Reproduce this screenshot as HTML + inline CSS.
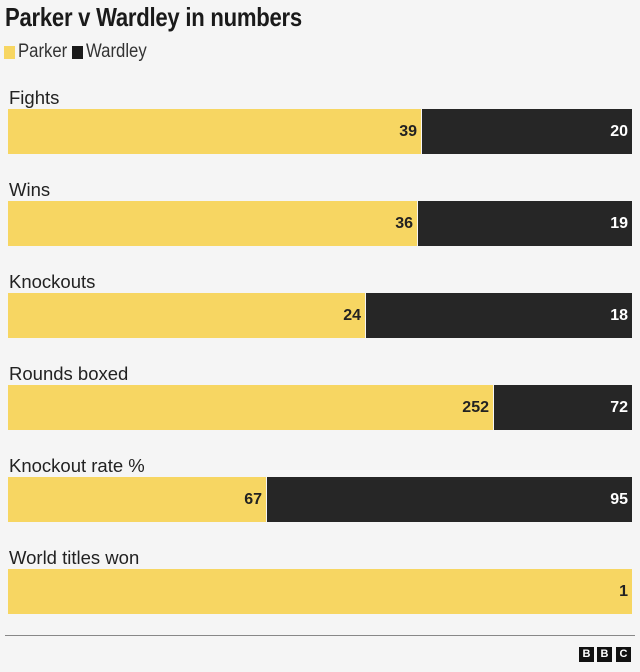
<!DOCTYPE html>
<html><head><meta charset="utf-8"><style>
body{margin:0;width:640px;height:672px;background:#f5f5f5;font-family:"Liberation Sans",sans-serif;position:relative;overflow:hidden;color:#222}
.a{position:absolute}
h1{position:absolute;left:5px;top:2px;margin:0;font-size:26px;font-weight:bold;letter-spacing:-0.3px;color:#1a1a1a;transform:scaleX(0.85);transform-origin:left top;white-space:nowrap}
.lab{position:absolute;left:9px;font-size:18.5px;color:#222;white-space:nowrap}
.lg{position:absolute;top:41px;font-size:19px;color:#333;transform:scaleX(0.88);transform-origin:left top;white-space:nowrap}
.y{position:absolute;background:#f7d662;height:45px}
.k{position:absolute;background:#262626;height:45px}
.v{position:absolute;font-weight:bold;font-size:16px;line-height:45px;text-align:right}
.bb{position:absolute;top:647px;width:15px;height:15px;background:#111;color:#fff;font-size:11px;font-weight:bold;text-align:center;line-height:15px}
</style></head><body>
<h1>Parker v Wardley in numbers</h1>
<div class="a" style="left:4px;top:46px;width:11px;height:13px;background:#f7d662"></div>
<div class="lg" style="left:18px">Parker</div>
<div class="a" style="left:72px;top:46px;width:11px;height:13px;background:#1a1a1a"></div>
<div class="lg" style="left:86px">Wardley</div>

<div class="lab" style="top:87px">Fights</div>
<div class="y" style="top:109px;left:8px;width:413px"></div><div class="k" style="top:109px;left:422px;width:210px"></div>
<div class="v" style="top:109px;left:8px;width:409px">39</div><div class="v" style="top:109px;left:422px;width:206px;color:#fff">20</div>

<div class="lab" style="top:179px">Wins</div>
<div class="y" style="top:201px;left:8px;width:409px"></div><div class="k" style="top:201px;left:418px;width:214px"></div>
<div class="v" style="top:201px;left:8px;width:405px">36</div><div class="v" style="top:201px;left:418px;width:210px;color:#fff">19</div>

<div class="lab" style="top:271px">Knockouts</div>
<div class="y" style="top:293px;left:8px;width:357px"></div><div class="k" style="top:293px;left:366px;width:266px"></div>
<div class="v" style="top:293px;left:8px;width:353px">24</div><div class="v" style="top:293px;left:366px;width:262px;color:#fff">18</div>

<div class="lab" style="top:363px">Rounds boxed</div>
<div class="y" style="top:385px;left:8px;width:485px"></div><div class="k" style="top:385px;left:494px;width:138px"></div>
<div class="v" style="top:385px;left:8px;width:481px">252</div><div class="v" style="top:385px;left:494px;width:134px;color:#fff">72</div>

<div class="lab" style="top:455px">Knockout rate %</div>
<div class="y" style="top:477px;left:8px;width:258px"></div><div class="k" style="top:477px;left:267px;width:365px"></div>
<div class="v" style="top:477px;left:8px;width:254px">67</div><div class="v" style="top:477px;left:267px;width:361px;color:#fff">95</div>

<div class="lab" style="top:547px">World titles won</div>
<div class="y" style="top:569px;left:8px;width:624px"></div>
<div class="v" style="top:569px;left:8px;width:620px">1</div>

<div class="a" style="left:5px;top:635px;width:630px;height:1px;background:#888"></div>
<div class="bb" style="left:579px">B</div><div class="bb" style="left:597px">B</div><div class="bb" style="left:616px">C</div>
</body></html>
